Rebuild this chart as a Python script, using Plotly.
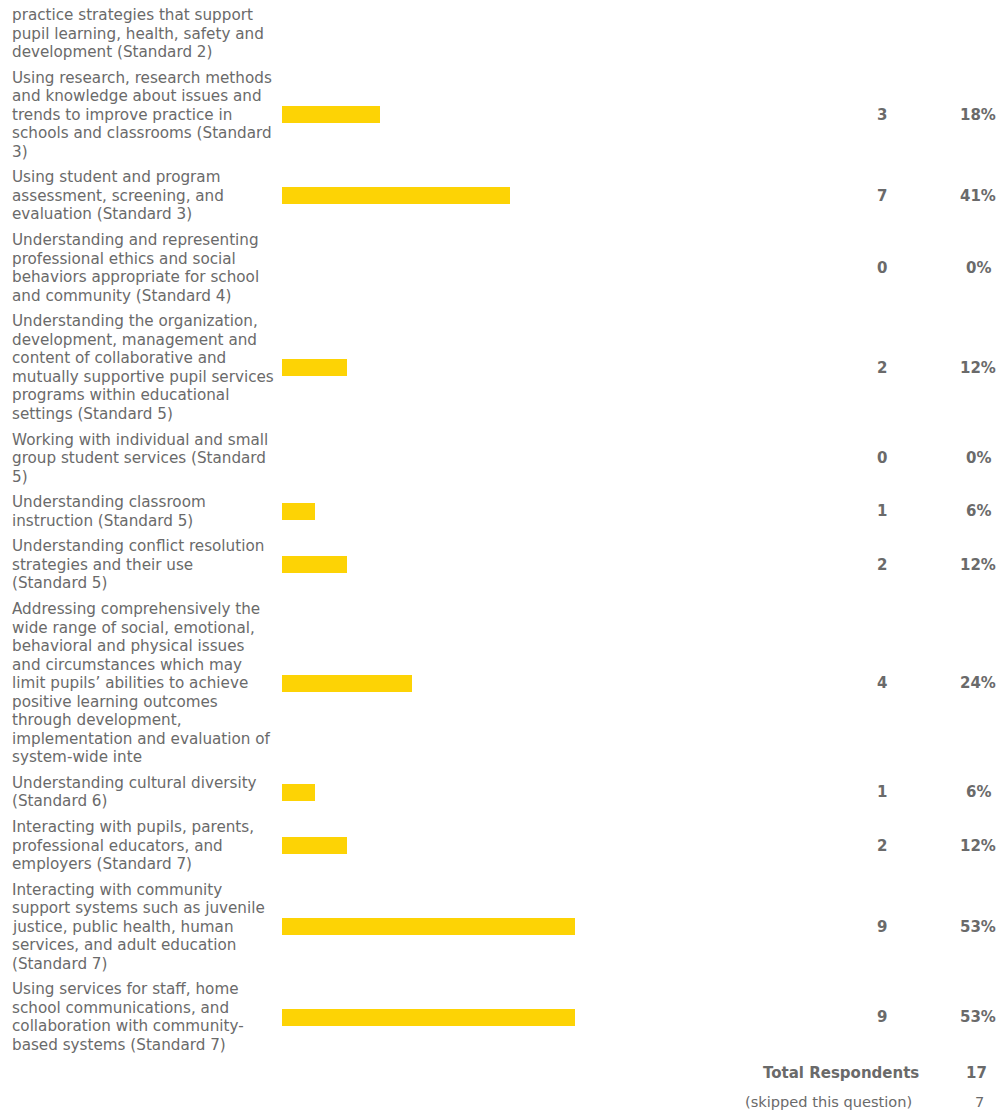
import plotly.graph_objects as go

# ---- data ----
partial_label = "practice strategies that support<br>pupil learning, health, safety and<br>development (Standard 2)"

labels = [
    "Using research, research methods<br>and knowledge about issues and<br>trends to improve practice in<br>schools and classrooms (Standard<br>3)",
    "Using student and program<br>assessment, screening, and<br>evaluation (Standard 3)",
    "Understanding and representing<br>professional ethics and social<br>behaviors appropriate for school<br>and community (Standard 4)",
    "Understanding the organization,<br>development, management and<br>content of collaborative and<br>mutually supportive pupil services<br>programs within educational<br>settings (Standard 5)",
    "Working with individual and small<br>group student services (Standard<br>5)",
    "Understanding classroom<br>instruction (Standard 5)",
    "Understanding conflict resolution<br>strategies and their use<br>(Standard 5)",
    "Addressing comprehensively the<br>wide range of social, emotional,<br>behavioral and physical issues<br>and circumstances which may<br>limit pupils\u2019 abilities to achieve<br>positive learning outcomes<br>through development,<br>implementation and evaluation of<br>system-wide inte",
    "Understanding cultural diversity<br>(Standard 6)",
    "Interacting with pupils, parents,<br>professional educators, and<br>employers (Standard 7)",
    "Interacting with community<br>support systems such as juvenile<br>justice, public health, human<br>services, and adult education<br>(Standard 7)",
    "Using services for staff, home<br>school communications, and<br>collaboration with community-<br>based systems (Standard 7)",
]
counts = [3, 7, 0, 2, 0, 1, 2, 4, 1, 2, 9, 9]
total_respondents = 17
skipped = 7

# ---- layout helpers ----
W, H = 1008, 1113
FONT = "DejaVu Sans, Verdana, sans-serif"
GRAY = "#6a6a6a"
BAR = "#FDD305"
FS = 15.2
NFS = 15.0
LINE = 18.5
GAP = 25.7
first_line = 15.0

pcts = [c / total_respondents * 100 for c in counts]
pct_text = [f"{round(p)}%" for p in pcts]

def lines_of(s):
    return s.split("<br>")

# compute row first-line positions and centres
y = first_line + (len(lines_of(partial_label)) - 1) * LINE + GAP
partial_first = first_line
row_first = []
for lab in labels:
    row_first.append(y)
    y = y + (len(lines_of(lab)) - 1) * LINE + GAP
centers = [f + (len(lines_of(l)) - 1) * LINE / 2 for f, l in zip(row_first, labels)]

fig = go.Figure()
fig.add_trace(go.Bar(
    x=pcts, y=centers, orientation="h", width=17,
    marker=dict(color=BAR, line=dict(width=0)),
    hoverinfo="skip", showlegend=False,
))

ann = []
def px(x):
    return x / W

def text_ann(x, y, text, anchor="left", size=FS, bold=False):
    t = f"<b>{text}</b>" if bold else text
    return dict(x=px(x), y=y, xref="paper", yref="y", text=t,
                xanchor=anchor, yanchor="middle", align="left", showarrow=False,
                font=dict(family=FONT, size=size, color=GRAY))

for i, ln in enumerate(lines_of(partial_label)):
    ann.append(text_ann(10, partial_first + i * LINE, ln))
for lab, f, c, pt, cy in zip(labels, row_first, counts, pct_text, centers):
    for i, ln in enumerate(lines_of(lab)):
        ann.append(text_ann(10, f + i * LINE, ln))
    ann.append(text_ann(882, cy, str(c), "center", NFS, True))
    ann.append(text_ann(978, cy, pt, "center", NFS, True))

ann.append(text_ann(921, 1073, "Total Respondents", "right", NFS, True))
ann.append(text_ann(976, 1073, str(total_respondents), "center", NFS, True))
ann.append(text_ann(914, 1101, "(skipped this question)", "right", 14.6))
ann.append(text_ann(979, 1101, str(skipped), "center", 14.6))

fig.update_layout(
    width=W, height=H,
    margin=dict(l=0, r=0, t=0, b=0, pad=0),
    paper_bgcolor="white", plot_bgcolor="white",
    xaxis=dict(domain=[282 / W, 835 / W], range=[0, 100], visible=False, fixedrange=True),
    yaxis=dict(domain=[0, 1], range=[H, 0], visible=False, fixedrange=True),
    annotations=ann,
    showlegend=False,
    bargap=0,
)

fig.write_html("out.html", config={"displayModeBar": False},
               post_script="document.body.style.margin='0';document.body.style.overflow='hidden';")
